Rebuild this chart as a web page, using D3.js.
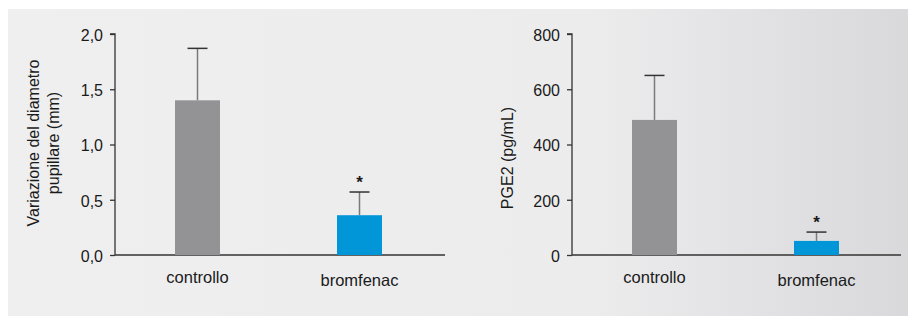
<!DOCTYPE html>
<html>
<head>
<meta charset="utf-8">
<script src="https://cdn.jsdelivr.net/npm/d3@7/dist/d3.min.js"></script>
<style>
  html, body { margin: 0; padding: 0; background: #ffffff; }
  svg { display: block; }
  text { font-family: "Liberation Sans", Arial, Helvetica, sans-serif; fill: #1a1a1a; }
</style>
</head>
<body>
<svg id="chart" width="908" height="321"></svg>
<script>
// Groups shared by both panels
const categories = ["controllo", "bromfenac"];

// Panel 1: change in pupil diameter (mm)
const pupilMean = [1.40, 0.36];
const pupilErr  = [0.47, 0.21];
const pupilTicks = [0, 0.5, 1.0, 1.5, 2.0];
const pupilTitle = ["Variazione del diametro", "pupillare (mm)"];

// Panel 2: PGE2 concentration (pg/mL)
const pgeMean = [489, 51];
const pgeErr  = [161, 32];
const pgeTicks = [0, 200, 400, 600, 800];
const pgeTitle = ["PGE2 (pg/mL)"];

const significant = [false, true];
const barColors = ["#939396", "#0096d7"];

const svg = d3.select("#chart");

// background panel with a soft horizontal shading
const defs = svg.append("defs");
const grad = defs.append("linearGradient").attr("id", "bg").attr("x1", "0").attr("x2", "1").attr("y1", "0").attr("y2", "0");
grad.append("stop").attr("offset", "0%").attr("stop-color", "#efeff0");
grad.append("stop").attr("offset", "65%").attr("stop-color", "#ececed");
grad.append("stop").attr("offset", "100%").attr("stop-color", "#d9d9dc");
svg.append("rect").attr("x", 8).attr("y", 9).attr("width", 900).attr("height", 307).attr("fill", "url(#bg)");

function drawPanel(opts) {
  const g = svg.append("g");
  const y = d3.scaleLinear().domain(opts.domain).range([255, 34]);
  // bars 45px wide on a 162px step, first bar 60px right of the axis
  const x = d3.scaleBand().domain(categories).range([opts.axisX, opts.axisX + 327])
    .paddingInner(117 / 162).paddingOuter(60 / 162);

  // y axis
  const yAxis = d3.axisLeft(y).tickValues(opts.ticks).tickSize(5).tickPadding(7).tickFormat(opts.fmt);
  const ya = g.append("g").attr("transform", `translate(${opts.axisX},0)`).call(yAxis);
  ya.select(".domain").attr("stroke", "#333").attr("stroke-width", 1.3).attr("d", `M-5,${y(opts.domain[1])}H0V${y(0)}`);
  ya.selectAll(".tick line").attr("stroke", "#333").attr("stroke-width", 1.3);
  ya.selectAll(".tick text").attr("font-size", 16).attr("fill", "#1a1a1a").attr("dy", "0.4em")
    .style("font-family", "'Liberation Sans', Arial, sans-serif");

  // x baseline
  g.append("line").attr("x1", opts.axisX).attr("x2", opts.axisEnd).attr("y1", y(0)).attr("y2", y(0))
    .attr("stroke", "#333").attr("stroke-width", 1.3);

  // error bars (upper only)
  const err = g.selectAll(".err").data(categories).enter().append("g");
  err.append("line")
    .attr("x1", d => x(d) + x.bandwidth() / 2).attr("x2", d => x(d) + x.bandwidth() / 2)
    .attr("y1", (d, i) => y(opts.mean[i])).attr("y2", (d, i) => y(opts.mean[i] + opts.err[i]))
    .attr("stroke", "#7a7a7c").attr("stroke-width", 1.5);
  err.append("line")
    .attr("x1", d => x(d) + x.bandwidth() / 2 - 10).attr("x2", d => x(d) + x.bandwidth() / 2 + 10)
    .attr("y1", (d, i) => y(opts.mean[i] + opts.err[i])).attr("y2", (d, i) => y(opts.mean[i] + opts.err[i]))
    .attr("stroke", "#333").attr("stroke-width", 1.5);

  // bars
  g.selectAll(".bar").data(categories).enter().append("rect")
    .attr("x", d => x(d)).attr("width", x.bandwidth())
    .attr("y", (d, i) => y(opts.mean[i])).attr("height", (d, i) => y(0) - y(opts.mean[i]))
    .attr("fill", (d, i) => barColors[i]);

  // significance markers
  g.selectAll(".star").data(categories.filter((d, i) => significant[i])).enter().append("text")
    .attr("x", d => x(d) + x.bandwidth() / 2)
    .attr("y", d => { const i = categories.indexOf(d); return y(opts.mean[i] + opts.err[i]) - 4; })
    .attr("text-anchor", "middle").attr("font-size", 17).attr("font-weight", "bold").text("*");

  // category labels
  g.selectAll(".cat").data(categories).enter().append("text")
    .attr("x", d => x(d) + x.bandwidth() / 2)
    .attr("y", (d, i) => 283 + i * 3)
    .attr("text-anchor", "middle").attr("font-size", 16.5).text(d => d);

  // y title
  const t = g.append("text").attr("transform", `translate(${opts.titleX},${opts.titleY}) rotate(-90)`)
    .attr("text-anchor", "middle").attr("font-size", 16);
  opts.title.forEach((line, i) => {
    t.append("tspan").attr("x", 0).attr("dy", i === 0 ? 0 : 20).text(line);
  });
}

drawPanel({
  domain: [0, 2.0], ticks: pupilTicks, fmt: d => d3.format(".1f")(d).replace(".", ","),
  mean: pupilMean, err: pupilErr, axisX: 115, axisEnd: 445,
  title: pupilTitle, titleX: 39, titleY: 143
});

drawPanel({
  domain: [0, 800], ticks: pgeTicks, fmt: d3.format("d"),
  mean: pgeMean, err: pgeErr, axisX: 572, axisEnd: 901,
  title: pgeTitle, titleX: 513, titleY: 158
});
</script>
</body>
</html>
